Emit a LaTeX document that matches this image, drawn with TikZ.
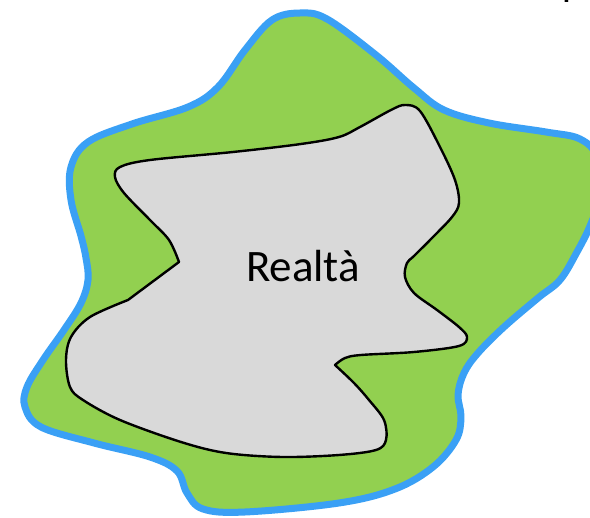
\documentclass[tikz,border=0pt]{standalone}
\usepackage{fontspec}
\setmainfont{Carlito}
\definecolor{outerblue}{RGB}{58,160,245}
\definecolor{outergreen}{RGB}{146,208,80}
\definecolor{innergrey}{RGB}{217,217,217}
\begin{document}
\begin{tikzpicture}[x=1pt,y=-1pt,
  outershape/.style={draw=outerblue,fill=outergreen,line width=7pt,line join=round},
  innershape/.style={draw=black,fill=innergrey,line width=2.4pt,line join=round},
  bigtext/.style={font=\fontsize{45}{50}\selectfont,inner sep=0pt}]
\useasboundingbox (0,0) rectangle (590,518);
\clip (0,0) rectangle (590,518);
\draw[outershape] plot[smooth cycle,tension=0.6] coordinates {
 (300,13) (327,19) (376,55) (414,88) (444,110) (489,123) (546,132) (580,139)
 (597,158) (598,200) (590,226) (577,252) (560,280) (538,298) (504,327)
 (478,353) (464,373) (458,395) (461,417) (456,440) (433,467) (395,489)
 (339,503) (245,512) (203,509) (187,493) (177,471) (150,457) (94,443)
 (41,427) (25,407) (27,387) (43,360) (64,330) (81,303) (88,280) (86,258)
 (81,236) (71,200) (71,167) (88,142) (132,124) (188,107) (218,87) (245,50) (272,20)};
\draw[innershape] plot[smooth,tension=0.55] coordinates {
 (335,365) (345,358) (361,355) (414,352) (459,346) (467,337) (459,327)
 (437,310) (414,293) (405,277) (407,263) (414,256) (433,237) (452,217)
 (459,203) (455,180) (440,147) (420,111) (405,105) (391,110) (360,127)
 (339,137) (301,144) (233,152) (150,160) (120,167) (115,177) (124,193)
 (150,220) (169,240) (179,262)}
 -- plot[smooth,tension=0.55] coordinates {
 (128,300) (90,317) (71,337) (66,360) (70,387) (83,400) (120,420)
 (181,442) (226,453) (282,457) (339,455) (376,450) (386,440) (384,420)
 (369,400) (354,383) (335,365)} -- cycle;
\node[bigtext,anchor=base] (realta) at (303,282) {Realtà};
\node[bigtext,anchor=base west] (cutm) at (561,3) {M};
\end{tikzpicture}
\end{document}
